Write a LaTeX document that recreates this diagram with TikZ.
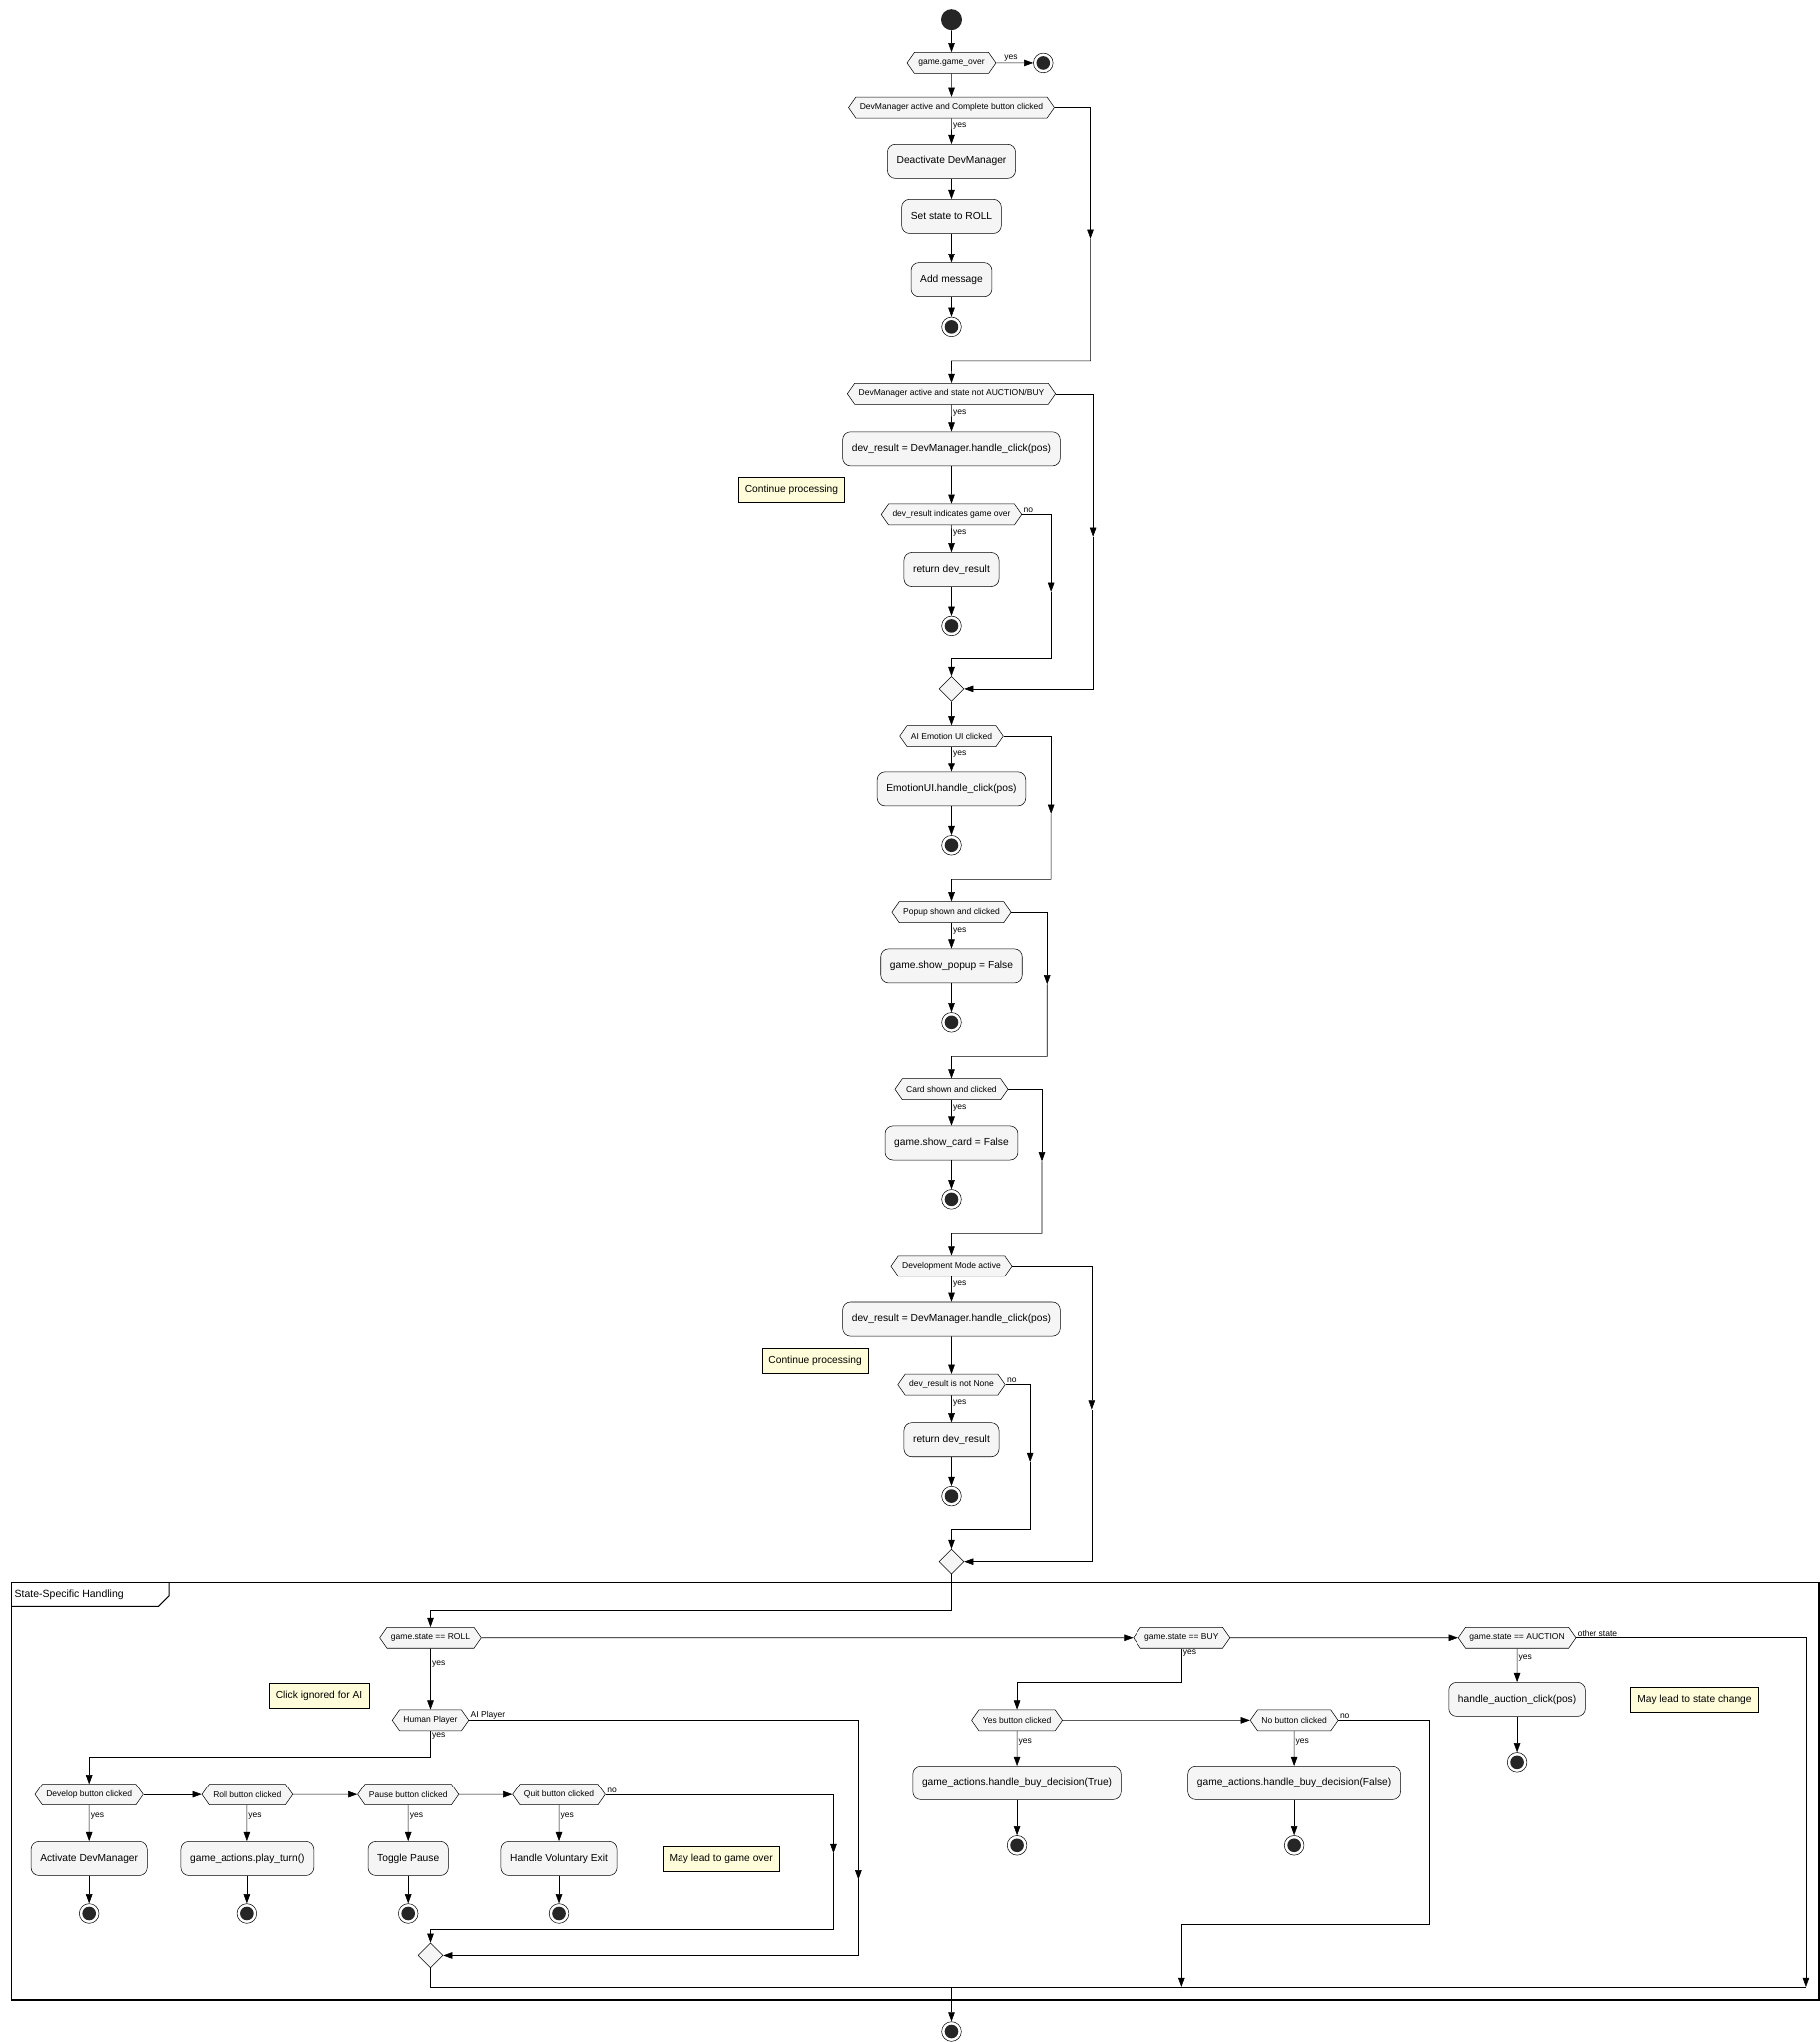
\documentclass[tikz,border=0pt]{standalone}
\usepackage{fontspec}
\setmainfont{Liberation Sans}
\usetikzlibrary{shapes.symbols,shapes.geometric,arrows.meta}
\tikzset{
 x=1pt,y=-1pt,
 dec/.style={signal, signal to=east and west, signal pointer angle=110, draw, fill=gray!8, font=\fontsize{6.5}{7}\selectfont, inner xsep=3, inner ysep=0, minimum height=16},
 act/.style={rectangle, rounded corners=6, draw, fill=gray!8, font=\fontsize{7.8}{9}\selectfont, minimum height=26, inner xsep=7},
 stopn/.style={circle, draw, minimum size=15, inner sep=0, path picture={\fill[black!85] (path picture bounding box.center) circle (5.2);}},
 startn/.style={circle, fill=black!85, minimum size=16, inner sep=0},
 mergen/.style={diamond, draw, fill=gray!8, minimum size=19, inner sep=0},
 notebox/.style={rectangle, draw, fill=yellow!15, font=\fontsize{7.8}{9}\selectfont, minimum height=19, inner xsep=5},
 lbl/.style={font=\fontsize{6.5}{7}\selectfont, inner sep=1},
 arr/.style={-{Triangle[length=7pt,width=5pt]}},
 line width=0.6pt
}
\begin{document}
\begin{tikzpicture}
\useasboundingbox (0,0) rectangle (1390,1560);
% top
\node[startn] (s) at (727,15) {};
\node[dec] (d1) at (727,48) {game.game\_over};
\node[stopn] (e1) at (797,48) {};
\draw[arr] (s) -- (d1);
\draw[arr] (d1) -- (e1) node[lbl,pos=0.4,above] {yes};
\node[dec] (d2) at (727,82) {DevManager active and Complete button clicked};
\draw[arr] (d1) -- (d2);
\node[act] (a1) at (727,123) {Deactivate DevManager};
\node[act] (a2) at (727,165) {Set state to ROLL};
\node[act] (a3) at (727,214) {Add message};
\node[stopn] (e2) at (727,250) {};
\draw[arr] (d2) -- (a1) node[lbl,pos=0.3,right] {yes};
\draw[arr] (a1) -- (a2); \draw[arr] (a2) -- (a3); \draw[arr] (a3) -- (e2);
\node[dec] (d3) at (727,301) {DevManager active and state not AUCTION/BUY};
\coordinate (c2a) at (833,182); \coordinate (c2b) at (727,276);
\draw[arr] (d2.east) -| (c2a);
\draw[arr] (c2a) |- (c2b) -- (d3);
\node[act] (b1) at (727,343) {dev\_result = DevManager.handle\_click(pos)};
\draw[arr] (d3) -- (b1) node[lbl,pos=0.3,right] {yes};
\node[notebox] (n1) at (605,374) {Continue processing};
\node[dec] (d4) at (727,393) {dev\_result indicates game over};
\draw[arr] (b1) -- (d4);
\node[act] (b2) at (727,435) {return dev\_result};
\node[stopn] (e3) at (727,478) {};
\draw[arr] (d4) -- (b2) node[lbl,pos=0.3,right] {yes};
\draw[arr] (b2) -- (e3);
\node[mergen] (m1) at (727,526) {};
\node[lbl,anchor=south west] at (d4.east) {no};
\coordinate (c4a) at (803,452); \coordinate (c4b) at (727,503);
\draw[arr] (d4.east) -| (c4a);
\draw[arr] (c4a) |- (c4b) -- (m1);
\coordinate (c3a) at (835,410);
\draw[arr] (d3.east) -| (c3a);
\draw[arr] (c3a) |- (m1.east);
% AI emotion
\node[dec] (d5) at (727,562) {AI Emotion UI clicked};
\draw[arr] (m1) -- (d5);
\node[act] (f1) at (727,603) {EmotionUI.handle\_click(pos)};
\node[stopn] (e4) at (727,646) {};
\draw[arr] (d5) -- (f1) node[lbl,pos=0.3,right] {yes};
\draw[arr] (f1) -- (e4);
\node[dec] (d6) at (727,697) {Popup shown and clicked};
\coordinate (c5a) at (803,622); \coordinate (c5b) at (727,672);
\draw[arr] (d5.east) -| (c5a);
\draw[arr] (c5a) |- (c5b) -- (d6);
\node[act] (g1) at (727,738) {game.show\_popup = False};
\node[stopn] (e5) at (727,781) {};
\draw[arr] (d6) -- (g1) node[lbl,pos=0.3,right] {yes};
\draw[arr] (g1) -- (e5);
\node[dec] (d7) at (727,832) {Card shown and clicked};
\coordinate (c6a) at (800,752); \coordinate (c6b) at (727,807);
\draw[arr] (d6.east) -| (c6a);
\draw[arr] (c6a) |- (c6b) -- (d7);
\node[act] (h1) at (727,873) {game.show\_card = False};
\node[stopn] (e6) at (727,916) {};
\draw[arr] (d7) -- (h1) node[lbl,pos=0.3,right] {yes};
\draw[arr] (h1) -- (e6);
\node[dec] (d8) at (727,967) {Development Mode active};
\coordinate (c7a) at (796,887); \coordinate (c7b) at (727,942);
\draw[arr] (d7.east) -| (c7a);
\draw[arr] (c7a) |- (c7b) -- (d8);
\node[act] (k1) at (727,1008) {dev\_result = DevManager.handle\_click(pos)};
\draw[arr] (d8) -- (k1) node[lbl,pos=0.3,right] {yes};
\node[notebox] (n2) at (623,1040) {Continue processing};
\node[dec] (d9) at (727,1058) {dev\_result is not None};
\draw[arr] (k1) -- (d9);
\node[act] (k2) at (727,1100) {return dev\_result};
\node[stopn] (e7) at (727,1143) {};
\draw[arr] (d9) -- (k2) node[lbl,pos=0.3,right] {yes};
\draw[arr] (k2) -- (e7);
\node[mergen] (m2) at (727,1193) {};
\node[lbl,anchor=south west] at (d9.east) {no};
\coordinate (c9a) at (787,1117); \coordinate (c9b) at (727,1168);
\draw[arr] (d9.east) -| (c9a);
\draw[arr] (c9a) |- (c9b) -- (m2);
\coordinate (c8a) at (834,1077);
\draw[arr] (d8.east) -| (c8a);
\draw[arr] (c8a) |- (m2.east);
% frame
\draw[line width=1pt] (9,1209) rectangle (1390,1528);
\draw[line width=0.8pt] (9,1227) -- (121,1227) -- (129,1219) -- (129,1209);
\node[font=\fontsize{8}{9}\selectfont, anchor=west, inner sep=1] at (10,1218) {State-Specific Handling};
% state
\node[dec] (r) at (329,1251) {game.state == ROLL};
\node[dec] (bu) at (903,1251) {game.state == BUY};
\node[dec] (au) at (1159,1251) {game.state == AUCTION};
\coordinate (c10) at (727,1230);
\draw[arr] (m2) -- (c10) -| (r);
\draw[arr] (r) -- (bu);
\draw[arr] (bu) -- (au);
\node[lbl,anchor=south west] at (au.east) {other state};
% roll
\node[dec] (hp) at (329,1314) {Human Player};
\draw[arr] (r) -- (hp) node[lbl,pos=0.25,right] {yes};
\node[notebox] (n3) at (244,1295) {Click ignored for AI};
\node[lbl,anchor=south west] at (hp.east) {AI Player};
\node[dec] (q1) at (68,1371) {Develop button clicked};
\node[dec] (q2) at (189,1371) {Roll button clicked};
\node[dec] (q3) at (312,1371) {Pause button clicked};
\node[dec] (q4) at (427,1371) {Quit button clicked};
\coordinate (c11) at (329,1342);
\draw[arr] (hp) -- (c11) -| (q1);
\node[lbl,anchor=north west] at (329,1322) {yes};
\draw[arr] (q1) -- (q2); \draw[arr] (q2) -- (q3); \draw[arr] (q3) -- (q4);
\node[act] (p1) at (68,1420) {Activate DevManager};
\node[act] (p2) at (189,1420) {game\_actions.play\_turn()};
\node[act] (p3) at (312,1420) {Toggle Pause};
\node[act] (p4) at (427,1420) {Handle Voluntary Exit};
\node[notebox] (n4) at (551,1420) {May lead to game over};
\foreach \i/\j in {q1/p1,q2/p2,q3/p3,q4/p4} \draw[arr] (\i) -- (\j) node[lbl,pos=0.3,right] {yes};
\node[stopn] (z1) at (68,1462) {};
\node[stopn] (z2) at (189,1462) {};
\node[stopn] (z3) at (312,1462) {};
\node[stopn] (z4) at (427,1462) {};
\foreach \i/\j in {p1/z1,p2/z2,p3/z3,p4/z4} \draw[arr] (\i) -- (\j);
\node[mergen] (m3) at (329,1494) {};
\node[lbl,anchor=south west] at (q4.east) {no};
\coordinate (c12a) at (637,1416); \coordinate (c12b) at (329,1474);
\draw[arr] (q4.east) -| (c12a);
\draw[arr] (c12a) |- (c12b) -- (m3);
\coordinate (c13) at (656,1436);
\draw[arr] (hp.east) -| (c13);
\draw[arr] (c13) |- (m3.east);
% buy
\node[dec] (y1) at (777,1314) {Yes button clicked};
\node[dec] (y2) at (989,1314) {No button clicked};
\coordinate (c14) at (903,1285);
\draw[arr] (bu) -- (c14) -| (y1);
\node[lbl,anchor=north west] at (903,1259) {yes};
\draw[arr] (y1) -- (y2);
\node[act] (w1) at (777,1362) {game\_actions.handle\_buy\_decision(True)};
\node[act] (w2) at (989,1362) {game\_actions.handle\_buy\_decision(False)};
\draw[arr] (y1) -- (w1) node[lbl,pos=0.3,right] {yes};
\draw[arr] (y2) -- (w2) node[lbl,pos=0.3,right] {yes};
\node[stopn] (z5) at (777,1410) {};
\node[stopn] (z6) at (989,1410) {};
\draw[arr] (w1) -- (z5); \draw[arr] (w2) -- (z6);
\node[lbl,anchor=south west] at (y2.east) {no};
\coordinate (c15a) at (1092,1470); \coordinate (c15b) at (903,1518);
\draw (y2.east) -| (c15a) -- (903,1470);
\draw[arr] (903,1470) -- (c15b);
% auction
\node[act] (u1) at (1159,1298) {handle\_auction\_click(pos)};
\draw[arr] (au) -- (u1) node[lbl,pos=0.3,right] {yes};
\node[notebox] (n5) at (1295,1298) {May lead to state change};
\node[stopn] (z7) at (1159,1346) {};
\draw[arr] (u1) -- (z7);
\coordinate (c16) at (1380,1518);
\draw[arr] (au.east) -| (c16);
% end
\coordinate (c17) at (727,1518);
\node[stopn] (fin) at (727,1552) {};
\draw (m3) -- (329,1518) -- (c16);
\draw[arr] (c17) -- (fin);
\end{tikzpicture}
\end{document}
